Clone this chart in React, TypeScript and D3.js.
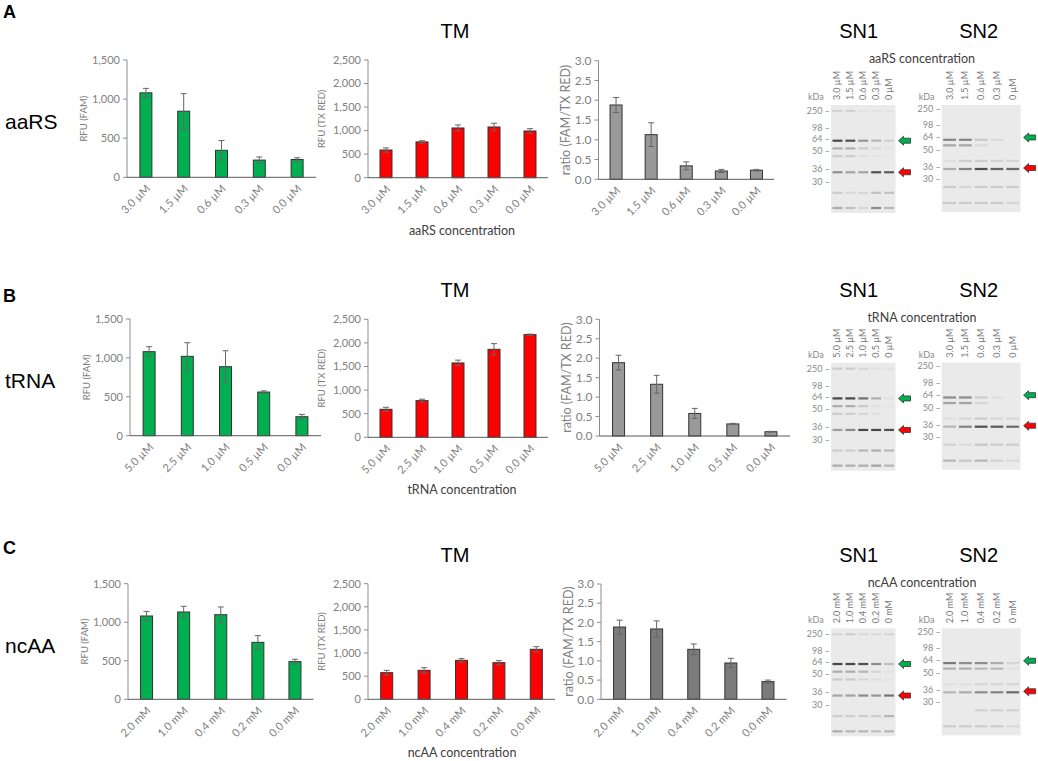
import * as d3 from "d3";

// ---- data ----
const famTicks = [0, 500, 1000, 1500];
const txTicks = [0, 500, 1000, 1500, 2000, 2500];
const ratioTicks = [0, 0.5, 1, 1.5, 2, 2.5, 3];
const markerKda = [250, 98, 64, 50, 36, 30];

const aaRSLabels = ["3.0 µM", "1.5 µM", "0.6 µM", "0.3 µM", "0.0 µM"];
const aaRSFam = [1080, 845, 345, 220, 228];
const aaRSFamErr = [57, 225, 125, 40, 22];
const aaRSTx = [588, 760, 1056, 1077, 992];
const aaRSTxErr = [45, 25, 65, 80, 50];
const aaRSRatio = [1.88, 1.13, 0.34, 0.21, 0.23];
const aaRSRatioErr = [0.19, 0.3, 0.1, 0.04, 0.02];

const tRNALabels = ["5.0 µM", "2.5 µM", "1.0 µM", "0.5 µM", "0.0 µM"];
const tRNAFam = [1080, 1020, 887, 561, 244];
const tRNAFamErr = [64, 175, 205, 15, 30];
const tRNATx = [593, 777, 1575, 1864, 2175];
const tRNATxErr = [43, 30, 60, 120, 12];
const tRNARatio = [1.885, 1.33, 0.58, 0.31, 0.11];
const tRNARatioErr = [0.19, 0.23, 0.13, 0.015, 0.01];

const ncAALabels = ["2.0 mM", "1.0 mM", "0.4 mM", "0.2 mM", "0.0 mM"];
const ncAAFam = [1081, 1133, 1098, 739, 489];
const ncAAFamErr = [60, 73, 100, 87, 30];
const ncAATx = [576, 627, 843, 792, 1081];
const ncAATxErr = [50, 57, 36, 44, 57];
const ncAARatio = [1.88, 1.83, 1.3, 0.945, 0.46];
const ncAARatioErr = [0.18, 0.21, 0.14, 0.12, 0.04];

// gel lanes
const laneAaRS = ["3.0 µM", "1.5 µM", "0.6 µM", "0.3 µM", "0 µM"];
const laneTRNA = ["5.0 µM", "2.5 µM", "1.0 µM", "0.5 µM", "0 µM"];
const laneNcAA = ["2.0 mM", "1.0 mM", "0.4 mM", "0.2 mM", "0 mM"];

// gel bands: apparent size (kDa) and intensity per lane
const sn1Kda = [250, 62, 53, 46, 34.5, 25, 18];
const sn2Kda = [61, 55, 41, 35, 26, 18];
const gelA1 = [
  [0.12, 0.12, 0.04, 0.04, 0.04],
  [0.95, 0.9, 0.5, 0.3, 0.12],
  [0.35, 0.35, 0.15, 0.08, 0.04],
  [0.15, 0.15, 0.05, 0.03, 0.02],
  [0.55, 0.4, 0.4, 0.9, 0.85],
  [0.15, 0.1, 0.1, 0.25, 0.25],
  [0.35, 0.25, 0.1, 0.55, 0.3],
];
const gelA2 = [
  [0.6, 0.6, 0.2, 0.08, 0],
  [0.4, 0.4, 0.08, 0, 0],
  [0.05, 0.15, 0.15, 0.12, 0.1],
  [0.35, 0.6, 0.9, 0.8, 0.75],
  [0.15, 0.1, 0.15, 0.15, 0.15],
  [0.2, 0.15, 0.2, 0.15, 0.1],
];
const gelB1 = [
  [0.15, 0.15, 0.1, 0.05, 0.05],
  [0.95, 0.95, 0.7, 0.35, 0.05],
  [0.35, 0.35, 0.2, 0.05, 0.03],
  [0.15, 0.15, 0.1, 0.05, 0],
  [0.45, 0.55, 0.95, 0.95, 0.9],
  [0.15, 0.15, 0.3, 0.35, 0.3],
  [0.35, 0.35, 0.35, 0.4, 0.3],
];
const gelB2 = [
  [0.55, 0.55, 0.15, 0.05, 0],
  [0.4, 0.4, 0.1, 0, 0],
  [0.05, 0.1, 0.15, 0.1, 0.1],
  [0.3, 0.6, 0.9, 0.85, 0.75],
  [0.12, 0.08, 0.2, 0.15, 0.15],
  [0.3, 0.2, 0.3, 0.12, 0.08],
];
const gelC1 = [
  [0.1, 0.15, 0.08, 0.08, 0.1],
  [0.95, 0.95, 0.9, 0.55, 0.25],
  [0.35, 0.35, 0.3, 0.1, 0.05],
  [0.15, 0.15, 0.1, 0.05, 0.03],
  [0.4, 0.45, 0.55, 0.5, 0.7],
  [0.15, 0.15, 0.15, 0.15, 0.3],
  [0.35, 0.3, 0.3, 0.25, 0.3],
];
const gelC2 = [
  [0.65, 0.55, 0.55, 0.35, 0.1],
  [0.35, 0.35, 0.3, 0.3, 0.05],
  [0.05, 0.05, 0.1, 0.1, 0.1],
  [0.3, 0.35, 0.55, 0.6, 0.75],
  [0, 0, 0.12, 0.12, 0.12],
  [0.15, 0.15, 0.15, 0.15, 0.08],
];

const FONT = "Lato, 'Open Sans', sans-serif";
const ARIAL = "'Liberation Sans', Arial, sans-serif";
const GREEN = "#00B050";
const RED = "#FF0000";

const fmtInt = d3.format(",");
const fmtRatio = d3.format(".1f");

function BarChart(p: any) {
  const x = d3.scaleBand<string>().domain(p.labels).range([p.left, p.right]);
  const y = d3.scaleLinear().domain([0, p.max]).range([p.bottom, p.top]);
  const bw = 12;
  const mid = (p.top + p.bottom) / 2;
  return (
    <g fontFamily={FONT}>
      {p.ticks.map((t: number) => (
        <g key={t}>
          <line x1={p.left - 4} x2={p.left} y1={y(t)} y2={y(t)} stroke="#8c8c8c" />
          <text x={p.left - 7} y={y(t)} dy="0.35em" textAnchor="end" fontSize={p.tickSize} fill="#808080">
            {p.fmt(t)}
          </text>
        </g>
      ))}
      <line x1={p.left} x2={p.left} y1={y(0)} y2={y(p.max)} stroke="#8c8c8c" />
      {p.values.map((v: number, i: number) => {
        const cx = x(p.labels[i])! + x.bandwidth() / 2;
        const e = p.errs[i];
        return (
          <g key={i}>
            <rect x={cx - bw / 2} y={y(v)} width={bw} height={y(0) - y(v)} fill={p.fill} stroke="#333" strokeWidth={1} />
            <line x1={cx} x2={cx} y1={y(v - e)} y2={y(v + e)} stroke="#666" />
            <line x1={cx - 3} x2={cx + 3} y1={y(v - e)} y2={y(v - e)} stroke="#666" />
            <line x1={cx - 3} x2={cx + 3} y1={y(v + e)} y2={y(v + e)} stroke="#666" />
            <text
              transform={`translate(${cx + 5},${y(0) + 12}) rotate(-45)`}
              textAnchor="end"
              fontSize={11}
              fill="#808080"
            >
              {p.labels[i]}
            </text>
          </g>
        );
      })}
      <line x1={p.left} x2={p.right} y1={y(0)} y2={y(0)} stroke="#595959" />
      <text
        transform={`translate(${p.left - p.labOff},${mid}) rotate(-90)`}
        textAnchor="middle"
        dominantBaseline="central"
        fontSize={p.labSize}
        fill="#808080"
      >
        {p.ylab}
      </text>
    </g>
  );
}

function Gel(p: any) {
  const lanes = d3.scaleBand<number>().domain(d3.range(5)).range([p.left, p.right]);
  const ys = d3.scaleLinear().domain(markerKda).range(p.offsets.map((o: number) => p.top + o));
  const arrow = (k: number, col: string) => {
    const ay = ys(k);
    const ax = p.right + 3;
    return (
      <path
        d={`M${ax},${ay} L${ax + 5},${ay - 4.5} L${ax + 5},${ay - 2.5} L${ax + 12},${ay - 2.5} L${ax + 12},${ay + 2.5} L${ax + 5},${ay + 2.5} L${ax + 5},${ay + 4.5} Z`}
        fill={col}
        stroke="#333"
        strokeWidth={0.8}
      />
    );
  };
  return (
    <g fontFamily={FONT}>
      <rect x={p.left} y={p.top} width={p.right - p.left} height={p.bottom - p.top} fill="#eaeaea" />
      <g filter="url(#blur)">
        {p.kda.map((k: number, r: number) =>
          p.ints[r].map((v: number, i: number) =>
            v > 0 ? (
              <rect
                key={`${r}-${i}`}
                x={lanes(i)! + 1.5}
                y={ys(k) - 1.1}
                width={lanes.bandwidth() - 3}
                height={2.2}
                fill="#222"
                opacity={v * 0.85}
              />
            ) : null
          )
        )}
      </g>
      {markerKda.map((m) => (
        <text key={m} x={p.left - 1} y={ys(m)} dy="0.35em" textAnchor="end" fontSize={9} fill="#8a8a8a">
          {m} –
        </text>
      ))}
      <text x={p.left - 23} y={p.top - 5} fontSize={9} fill="#8a8a8a">
        kDa
      </text>
      {p.lanes.map((l: string, i: number) => (
        <text
          key={i}
          transform={`translate(${lanes(i)! + lanes.bandwidth() / 2 + 3},${p.top - 5}) rotate(-90)`}
          fontSize={9}
          fill="#777"
        >
          {l}
        </text>
      ))}
      {arrow(p.arrows[0], GREEN)}
      {arrow(p.arrows[1], RED)}
    </g>
  );
}

const SN1_OFF = [6, 23, 34, 46, 64, 77];
const SN2_OFF = [3.5, 20, 32, 45, 62, 74];

function Row(p: any) {
  return (
    <g>
      <text x={3} y={p.letterY} fontFamily={ARIAL} fontWeight="bold" fontSize={18}>
        {p.letter}
      </text>
      <text x={5} y={p.nameY} fontFamily={ARIAL} fontSize={21}>
        {p.name}
      </text>
      <text x={455} y={p.tmY} textAnchor="middle" fontFamily={ARIAL} fontSize={20}>
        TM
      </text>
      <text x={858.6} y={p.tmY} textAnchor="middle" fontFamily={ARIAL} fontSize={20}>
        SN1
      </text>
      <text x={978.7} y={p.tmY} textAnchor="middle" fontFamily={ARIAL} fontSize={20}>
        SN2
      </text>
      <text x={922} y={p.concY} textAnchor="middle" fontFamily={FONT} fontSize={12.5} fill="#404040">
        {p.name} concentration
      </text>
      <text x={462} y={p.axTitleY} textAnchor="middle" fontFamily={FONT} fontSize={12.5} fill="#404040">
        {p.name} concentration
      </text>
      <BarChart
        {...p.c1}
        labels={p.labels}
        values={p.fam}
        errs={p.famErr}
        max={1500}
        ticks={famTicks}
        fmt={fmtInt}
        fill={GREEN}
        ylab="RFU (FAM)"
        labOff={44}
        labSize={9.5}
        tickSize={11}
      />
      <BarChart
        {...p.c2}
        labels={p.labels}
        values={p.tx}
        errs={p.txErr}
        max={2500}
        ticks={txTicks}
        fmt={fmtInt}
        fill={RED}
        ylab="RFU (TX RED)"
        labOff={47}
        labSize={9.5}
        tickSize={11}
      />
      <BarChart
        {...p.c3}
        labels={p.labels}
        values={p.ratio}
        errs={p.ratioErr}
        max={3}
        ticks={ratioTicks}
        fmt={fmtRatio}
        fill={p.gray}
        ylab="ratio (FAM/TX RED)"
        labOff={33}
        labSize={12.5}
        tickSize={12}
      />
      <Gel left={831} right={895.5} top={p.gelTop} bottom={p.gelTop + 108} offsets={SN1_OFF} lanes={p.lanes1}
        kda={sn1Kda} ints={p.gel1} arrows={[62, 34.5]} />
      <Gel left={941.7} right={1020.6} top={p.gelTop} bottom={p.gelTop + 107} offsets={SN2_OFF} lanes={p.lanes2}
        kda={sn2Kda} ints={p.gel2} arrows={[63.5, 35.5]} />
    </g>
  );
}

export default function App() {
  return (
    <div style={{ position: "absolute", left: 0, top: 0 }}>
      <svg width={1038} height={761} style={{ display: "block", background: "#fff" }}>
        <defs>
          <filter id="blur" x="-10%" y="-50%" width="120%" height="200%">
            <feGaussianBlur stdDeviation="0.45" />
          </filter>
        </defs>
        <Row
          letter="A" letterY={18} name="aaRS" nameY={129.3} tmY={37.8} concY={62.5} axTitleY={235}
          labels={aaRSLabels} fam={aaRSFam} famErr={aaRSFamErr} tx={aaRSTx} txErr={aaRSTxErr}
          ratio={aaRSRatio} ratioErr={aaRSRatioErr} gray="#999999"
          c1={{ left: 127, right: 316, top: 60, bottom: 177.3 }}
          c2={{ left: 368, right: 548, top: 60, bottom: 177.7 }}
          c3={{ left: 598.5, right: 774, top: 60.7, bottom: 179.3 }}
          gelTop={105} lanes1={laneAaRS} lanes2={laneAaRS} gel1={gelA1} gel2={gelA2}
        />
        <Row
          letter="B" letterY={301.5} name="tRNA" nameY={388.3} tmY={296.5} concY={321.7} axTitleY={494}
          labels={tRNALabels} fam={tRNAFam} famErr={tRNAFamErr} tx={tRNATx} txErr={tRNATxErr}
          ratio={tRNARatio} ratioErr={tRNARatioErr} gray="#999999"
          c1={{ left: 130, right: 321, top: 319, bottom: 435.7 }}
          c2={{ left: 368, right: 548, top: 319.3, bottom: 437.3 }}
          c3={{ left: 599.5, right: 790, top: 319.3, bottom: 436 }}
          gelTop={362.7} lanes1={laneTRNA} lanes2={laneAaRS} gel1={gelB1} gel2={gelB2}
        />
        <Row
          letter="C" letterY={554} name="ncAA" nameY={653.3} tmY={561.7} concY={586.7} axTitleY={757}
          labels={ncAALabels} fam={ncAAFam} famErr={ncAAFamErr} tx={ncAATx} txErr={ncAATxErr}
          ratio={ncAARatio} ratioErr={ncAARatioErr} gray="#7b7b7b"
          c1={{ left: 128, right: 313.5, top: 583.7, bottom: 699.3 }}
          c2={{ left: 368, right: 555, top: 583.7, bottom: 699.3 }}
          c3={{ left: 601, right: 786.5, top: 584, bottom: 699.3 }}
          gelTop={628.3} lanes1={laneNcAA} lanes2={laneNcAA} gel1={gelC1} gel2={gelC2}
        />
      </svg>
    </div>
  );
}
